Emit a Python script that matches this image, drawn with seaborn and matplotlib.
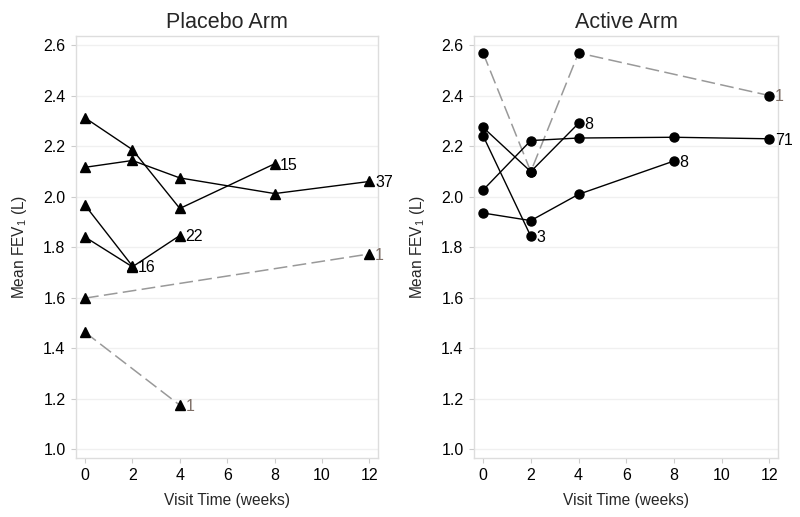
import matplotlib
matplotlib.use("Agg")
import matplotlib.pyplot as plt
import seaborn as sns
import pandas as pd

# placebo arm: one list of weeks and one list of mean FEV1 per pattern
plac_weeks = [[0, 2, 4, 8], [0, 2, 4, 8, 12], [0, 2], [0, 2, 4], [0, 12], [0, 4]]
plac_fev = [
    [2.312, 2.186, 1.953, 2.13],
    [2.116, 2.143, 2.074, 2.012, 2.06],
    [1.966, 1.725],
    [1.84, 1.722, 1.846],
    [1.598, 1.773],
    [1.463, 1.174],
]
plac_n = ["15", "37", "16", "22", "1", "1"]

# active arm
act_weeks = [[0, 2, 4, 12], [0, 2, 4], [0, 2], [0, 2, 4, 8, 12], [0, 2, 4, 8]]
act_fev = [
    [2.569, 2.099, 2.569, 2.40],
    [2.274, 2.099, 2.29],
    [2.241, 1.843],
    [2.026, 2.222, 2.232, 2.235, 2.229],
    [1.935, 1.905, 2.009, 2.141],
]
act_n = ["1", "8", "3", "71", "8"]

sns.set_style("white")
plt.rcParams["font.family"] = ["Liberation Sans", "DejaVu Sans"]
plt.rcParams["mathtext.default"] = "regular"

fig = plt.figure(figsize=(8, 5.17), dpi=100)
ax1 = fig.add_axes([0.095, 0.1141, 0.3775, 0.8163])
ax2 = fig.add_axes([0.5925, 0.1141, 0.38, 0.8163])


def draw_arm(ax, weeks, fev, ns, marker, msize, title):
    for w, v, n in zip(weeks, fev, ns):
        df = pd.DataFrame({"week": w, "fev": v})
        single = n == "1"  # n=1 patterns drawn grey dashed
        sns.lineplot(data=df, x="week", y="fev", ax=ax,
                     color="#999999" if single else "black",
                     linewidth=1.1 if single else 1.0,
                     dashes=False, zorder=2)
        if single:
            ax.lines[-1].set_dashes([9, 3.5])
        ax.plot(w, v, linestyle="none", marker=marker, markersize=msize,
                color="black", zorder=3)
        ax.annotate(n, (w[-1], v[-1]), xytext=(4, -1), textcoords="offset points",
                    va="center", ha="left", fontsize=11.5,
                    color="#7d6e66" if single else "black",
                    annotation_clip=False)
    ax.set_xlim(-0.38, 12.36)
    ax.set_ylim(0.965, 2.636)
    ax.set_xticks(range(0, 13, 2))
    ax.set_yticks([1.0, 1.2, 1.4, 1.6, 1.8, 2.0, 2.2, 2.4, 2.6])
    ax.set_yticklabels(["1.0", "1.2", "1.4", "1.6", "1.8", "2.0", "2.2", "2.4", "2.6"])
    ax.grid(axis="y", color="#f0f0f0", linewidth=1.0)
    ax.set_axisbelow(True)
    for s in ax.spines.values():
        s.set_color("#dddddd")
        s.set_linewidth(1.0)
    ax.tick_params(axis="both", length=3.5, width=0.8, color="#cccccc",
                   labelsize=11.5, labelcolor="black", pad=4, bottom=True, left=True)
    ax.set_xlabel("Visit Time (weeks)", fontsize=11.2, labelpad=7)
    ax.set_ylabel("Mean FEV$_1$ (L)", fontsize=11.2, labelpad=10)
    ax.set_title(title, fontsize=15.5, pad=6)


draw_arm(ax1, plac_weeks, plac_fev, plac_n, "^", 7, "Placebo Arm")
draw_arm(ax2, act_weeks, act_fev, act_n, "o", 6.5, "Active Arm")

fig.savefig("out.png", dpi=100)
